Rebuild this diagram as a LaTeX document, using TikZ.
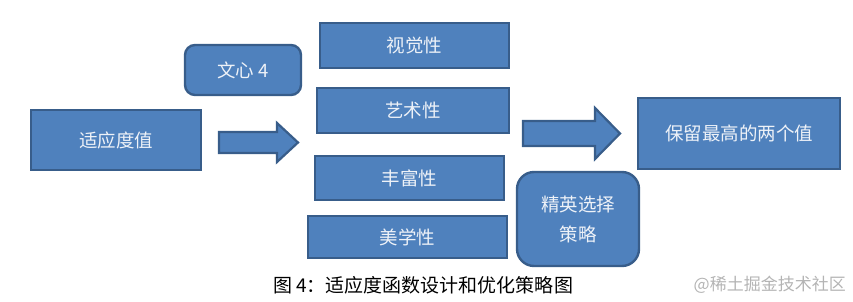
\documentclass[tikz,border=0pt]{standalone}
\usepackage{fontspec}
\setmainfont{Noto Sans CJK SC}
\newfontfamily\cjk{Noto Sans CJK SC}
\definecolor{boxfill}{HTML}{4F81BD}
\definecolor{boxline}{HTML}{385D8A}
\definecolor{boxtext}{HTML}{EEF2F8}
\definecolor{wmark}{HTML}{B4B4B4}
\tikzset{
  blockbox/.style={draw=boxline, line width=2.4pt, fill=boxfill, text=boxtext, inner sep=0pt, font=\cjk\fontsize{18.5}{22}\selectfont},
  roundbox/.style={blockbox, rounded corners=10pt},
  blockarrow/.style={draw=boxline, line width=2.2pt, fill=boxfill, line join=miter},
}
\begin{document}
\begin{tikzpicture}[x=1pt,y=-1pt]
\useasboundingbox (0,0) rectangle (853,302);
% boxes
\node[blockbox, minimum width=170pt, minimum height=60pt] (fit) at (116,140) {适应度值};
\node[roundbox, minimum width=116pt, minimum height=50pt] (wx) at (243,70) {文心 4};
\node[blockbox, minimum width=189pt, minimum height=45pt] (sj) at (414.5,45.5) {视觉性};
\node[blockbox, minimum width=192pt, minimum height=45pt] (ys) at (413,110.5) {艺术性};
\node[blockbox, minimum width=189pt, minimum height=44pt] (ff) at (409.5,178) {丰富性};
\node[blockbox, minimum width=199pt, minimum height=42pt] (mx) at (407.5,237) {美学性};
\node[roundbox, rounded corners=17pt, minimum width=122pt, minimum height=94pt, align=center, font=\cjk\fontsize{18.5}{30}\selectfont] (jy) at (578,219) {精英选择\\策略};
\node[blockbox, minimum width=202pt, minimum height=71pt] (bl) at (739,133.5) {保留最高的两个值};
% block arrows
\draw[blockarrow] (219,132) -- (277,132) -- (277,123) -- (298,142.5) -- (277,162) -- (277,153) -- (219,153) -- cycle;
\draw[blockarrow] (523,121) -- (595,121) -- (595,108) -- (620,133.5) -- (595,159) -- (595,146) -- (523,146) -- cycle;
% caption
\node[anchor=west, font=\cjk\fontsize{19}{22}\selectfont, text=black, inner sep=0pt] (cap) at (273,285) {图 4：适应度函数设计和优化策略图};
\node[anchor=east, font=\cjk\fontsize{17}{20}\selectfont, text=wmark, inner sep=0pt] (wm) at (846,285) {@稀土掘金技术社区};
\end{tikzpicture}
\end{document}
